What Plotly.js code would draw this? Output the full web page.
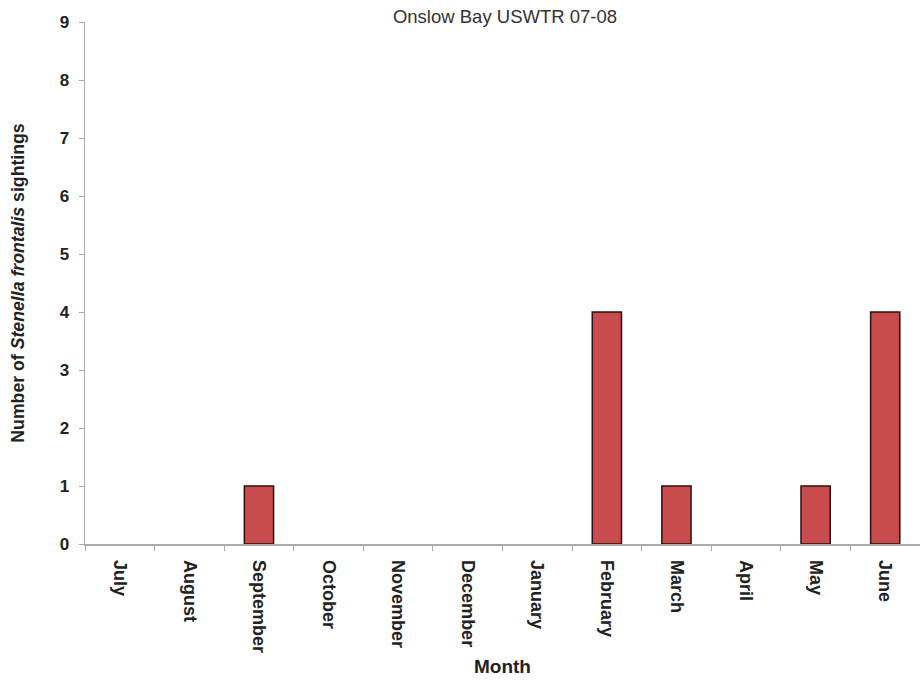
<!DOCTYPE html>
<html>
<head>
<meta charset="utf-8">
<script src="https://cdn.plot.ly/plotly-3.0.1.min.js"></script>
<style>html,body{margin:0;padding:0;background:#fff;}#chart{width:920px;height:681px;}</style>
</head>
<body>
<div id="chart"></div>
<script>
const months = ["July","August","September","October","November","December","January","February","March","April","May","June"];
const sightings = [0,0,1,0,0,0,0,4,1,0,1,4];
const yTicks = [0,1,2,3,4,5,6,7,8,9];

const trace = {
  type: "bar",
  x: months,
  y: sightings,
  marker: {
    color: "#c84b4e",
    line: {color: "#2e1010", width: sightings.map(v => v > 0 ? 1.5 : 0)}
  },
  hoverinfo: "x+y"
};

const FONT = "Liberation Sans, Arial, sans-serif";

const layout = {
  width: 920, height: 681,
  margin: {l: 85, r: 0, t: 22, b: 137},
  paper_bgcolor: "#fff", plot_bgcolor: "#fff",
  bargap: 0.58,
  showlegend: false,
  font: {family: FONT, color: "#222"},
  title: {text: "Onslow Bay USWTR 07-08", x: 505/920, xanchor: "center", xref: "container",
          y: 1 - 17/681, yanchor: "middle", yref: "container",
          font: {size: 18.5, color: "#333"}},
  xaxis: {
    type: "category",
    tickangle: 90,
    tickfont: {size: 18, color: "#222", family: FONT, weight: "bold"},
    showline: true, linecolor: "#ababab", linewidth: 1.5,
    ticks: "outside", tickson: "boundaries", ticklen: 5, tickcolor: "#ababab",
    ticklabelstandoff: 11,
    showgrid: false, zeroline: false,
    title: {text: "<b>Month</b>", font: {size: 19, color: "#222"}, standoff: 7}
  },
  yaxis: {
    range: [0, 9],
    tickvals: yTicks,
    ticktext: yTicks.map(String),
    tickfont: {size: 17, color: "#222", weight: "bold"},
    showline: true, linecolor: "#ababab", linewidth: 1.5,
    ticks: "outside", ticklen: 5, tickcolor: "#ababab",
    ticklabelstandoff: 6,
    showgrid: false, zeroline: false,
    title: {text: "<b>Number of <i>Stenella frontalis</i> sightings</b>", font: {size: 17.7, color: "#222"}, standoff: 30}
  }
};

Plotly.newPlot("chart", [trace], layout, {displayModeBar: false, staticPlot: true});
</script>
</body>
</html>
